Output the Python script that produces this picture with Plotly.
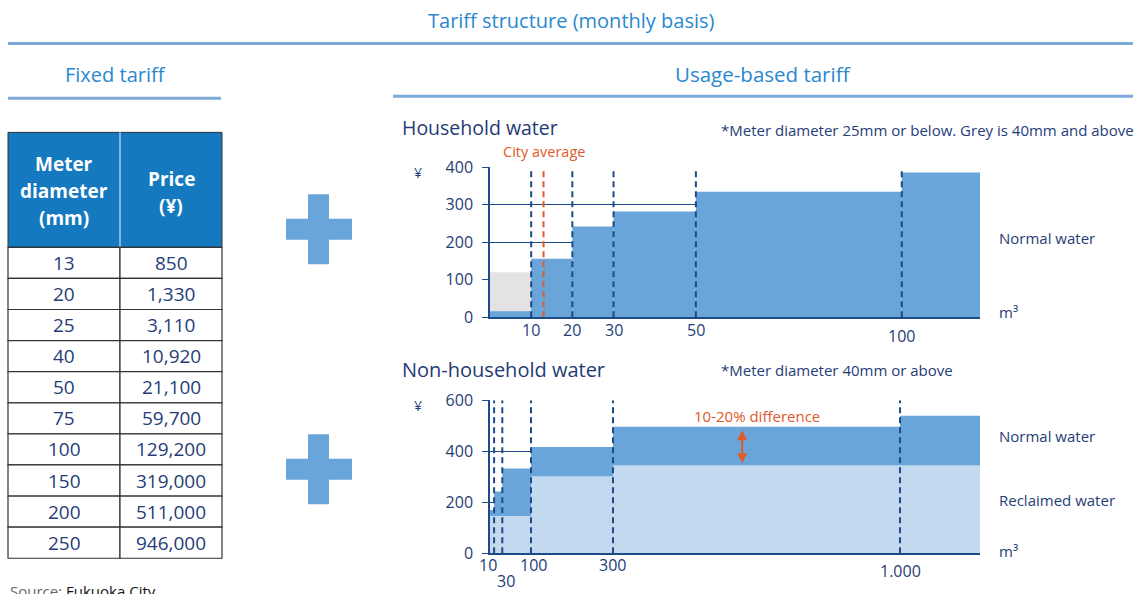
import plotly.graph_objects as go

W, H = 1137, 606
FONT = "Open Sans"

# ---- data ----
table_header = ["Meter<br>diameter<br>(mm)", "Price<br>(¥)"]
meter_diameter = [13, 20, 25, 40, 50, 75, 100, 150, 200, 250]
fixed_price = [850, 1330, 3110, 10920, 21100, 59700, 129200, 319000, 511000, 946000]

hh_breaks = [0, 10, 20, 30, 50, 100, 119]
hh_price = [16, 156, 242, 282, 335, 386]
hh_grey_breaks = [0, 10]
hh_grey_price = [120]
hh_city_avg = 13
hh_ticks = [10, 20, 30, 50, 100]
hh_tick_text = ["10", "20", "30", "50", "100"]

nh_breaks = [0, 10, 30, 100, 300, 1000, 1195]
nh_normal = [170, 242, 332, 417, 496, 539]
rc_breaks = [0, 100, 300, 1195]
nh_reclaimed = [146, 302, 345]
nh_ticks = [10, 30, 100, 300, 1000]
nh_tick_text = ["10", "30", "100", "300", "1.000"]

BLUE_BAR = "#69a5d9"
LIGHT_BAR = "#c3d9ef"
GREY_BAR = "#e3e3e3"
NAVY = "#1d4a88"
TEXT_NAVY = "#263d78"
TITLE_NAVY = "#1f3a74"
TITLE_BLUE = "#2a88d0"
RULE = "#7eaadb"
RED = "#e05a2b"
HEADER = "#1479bf"
BORDER = "#333333"

# the captured picture squeezes the page a little vertically, so layout
# positions below are given in picture pixels and converted here
Y_OFF, Y_SC = 9.6, 0.964


def px(x):
    return x / W


def py(y):
    return 1 - ((y - Y_OFF) / Y_SC) / H


def steps(breaks):
    mids = [(a + b) / 2 for a, b in zip(breaks[:-1], breaks[1:])]
    widths = [b - a for a, b in zip(breaks[:-1], breaks[1:])]
    return mids, widths


def label(x, y, text, size=15, color=TEXT_NAVY, xanchor="left"):
    fig.add_annotation(x=px(x), y=py(y), xref="paper", yref="paper", text=text, showarrow=False,
                       xanchor=xanchor, yanchor="middle", align="center",
                       font=dict(family=FONT, size=size, color=color))


fig = go.Figure()

# household chart
mids, widths = steps(hh_grey_breaks)
fig.add_trace(go.Bar(x=mids, y=hh_grey_price, width=widths, marker=dict(color=GREY_BAR, line_width=0),
                     xaxis="x", yaxis="y", hoverinfo="skip"))
mids, widths = steps(hh_breaks)
fig.add_trace(go.Bar(x=mids, y=hh_price, width=widths, marker=dict(color=BLUE_BAR, line_width=0),
                     xaxis="x", yaxis="y", hoverinfo="skip"))

# non-household chart
mids, widths = steps(nh_breaks)
fig.add_trace(go.Bar(x=mids, y=nh_normal, width=widths, marker=dict(color=BLUE_BAR, line_width=0),
                     xaxis="x2", yaxis="y2", hoverinfo="skip"))
mids, widths = steps(rc_breaks)
fig.add_trace(go.Bar(x=mids, y=nh_reclaimed, width=widths, marker=dict(color=LIGHT_BAR, line_width=0),
                     xaxis="x2", yaxis="y2", hoverinfo="skip"))

# dashed tier boundaries
for b in hh_ticks:
    fig.add_shape(type="line", xref="x", yref="y", x0=b, x1=b, y0=0, y1=400,
                  line=dict(color=NAVY, width=2, dash="6px,4px"))
fig.add_shape(type="line", xref="x", yref="y", x0=hh_city_avg, x1=hh_city_avg, y0=0, y1=400,
              line=dict(color=RED, width=2, dash="6px,4px"))
for b in nh_ticks:
    fig.add_shape(type="line", xref="x2", yref="y2", x0=b, x1=b, y0=0, y1=600,
                  line=dict(color=NAVY, width=2, dash="6px,4px"))

# x tick labels (staggered)
hh_shift = [-13, -13, -13, -13, -19]
for v, t, s in zip(hh_ticks, hh_tick_text, hh_shift):
    fig.add_annotation(x=v, y=0, xref="x", yref="y", text=t, showarrow=False, yshift=s,
                       font=dict(family=FONT, size=16, color=TEXT_NAVY))
nh_shift = [(-6, -12), (4, -28), (2, -12), (-1, -12), (0, -18)]
for v, t, (sx, sy) in zip(nh_ticks, nh_tick_text, nh_shift):
    fig.add_annotation(x=v, y=0, xref="x2", yref="y2", text=t, showarrow=False, xshift=sx, yshift=sy,
                       font=dict(family=FONT, size=16, color=TEXT_NAVY))

# difference arrow between normal and reclaimed water
fig.add_annotation(x=615, y=nh_reclaimed[-1], ax=615, ay=nh_normal[4], xref="x2", yref="y2",
                   axref="x2", ayref="y2", text="", showarrow=True, arrowhead=2, arrowside="end+start",
                   arrowsize=1, arrowwidth=2, arrowcolor=RED, standoff=2, startstandoff=2)

# fixed tariff table
col_edges = [8, 120, 222]
hdr_top, hdr_bot, row_h = 131, 246, 31.1
fig.add_shape(type="rect", xref="paper", yref="paper", x0=px(col_edges[0]), x1=px(col_edges[-1]),
              y0=py(hdr_bot), y1=py(hdr_top), fillcolor=HEADER, line=dict(color=BORDER, width=1))
fig.add_shape(type="line", xref="paper", yref="paper", x0=px(col_edges[1]), x1=px(col_edges[1]),
              y0=py(hdr_bot), y1=py(hdr_top), line=dict(color="#a9cbea", width=1.5))
for (a, b), t, cy in zip(zip(col_edges[:-1], col_edges[1:]), table_header, [190, 191]):
    lines = t.split("<br>")
    for k, ln in enumerate(lines):
        label((a + b) / 2, cy + (k - (len(lines) - 1) / 2) * 27, f"<b>{ln}</b>", 19, "white", "center")
for i, row in enumerate(zip([str(d) for d in meter_diameter], [f"{p:,}" for p in fixed_price])):
    top = hdr_bot + i * row_h
    for (a, b), t in zip(zip(col_edges[:-1], col_edges[1:]), row):
        fig.add_shape(type="rect", xref="paper", yref="paper", x0=px(a), x1=px(b),
                      y0=py(top + row_h), y1=py(top), fillcolor="white", line=dict(color=BORDER, width=1.2))
        label((a + b) / 2, top + row_h / 2, t, 19, TEXT_NAVY, "center")

label(571, 19, "Tariff structure (monthly basis)", 20, TITLE_BLUE, "center")
label(115, 73, "Fixed tariff", 20, TITLE_BLUE, "center")
label(763, 73, "Usage-based tariff", 20.5, TITLE_BLUE, "center")
label(400, 126.5, "Household water", 19.5, TITLE_NAVY)
label(719, 129, "*Meter diameter 25mm or below. Grey is 40mm and above", 15)
label(544, 150.5, "City average", 14.5, RED, "center")
label(757, 415, "10-20% difference", 15, RED, "center")
label(400, 368, "Non-household water", 20, TITLE_NAVY)
label(719, 369, "*Meter diameter 40mm or above", 15)
label(412, 171, "¥", 14)
label(412, 404, "¥", 14)
label(997, 237, "Normal water", 15)
label(997, 311, "m³", 15)
label(997, 435, "Normal water", 15)
label(997, 499, "Reclaimed water", 15)
label(997, 550, "m³", 15)
label(8, 590, "Source: <span style='color:#111'>Fukuoka City</span>", 15, "#666")

# header rules
for x0, x1, y in [(8, 1133, 42), (8, 221, 97), (393, 1133, 95)]:
    fig.add_shape(type="line", xref="paper", yref="paper", x0=px(x0), x1=px(x1), y0=py(y), y1=py(y),
                  line=dict(color=RULE, width=3))

# plus signs
for cy in [228, 468]:
    fig.add_shape(type="rect", xref="paper", yref="paper", x0=px(286), x1=px(352), y0=py(cy + 10.5), y1=py(cy - 10.5),
                  fillcolor=BLUE_BAR, line_width=0)
    fig.add_shape(type="rect", xref="paper", yref="paper", x0=px(308), x1=px(329), y0=py(cy + 35), y1=py(cy - 35),
                  fillcolor=BLUE_BAR, line_width=0)

xax = dict(showline=True, linecolor=NAVY, linewidth=2, showgrid=False, zeroline=False,
           showticklabels=False, ticks="", fixedrange=True)
yax = dict(showline=True, linecolor=NAVY, linewidth=1.5, showgrid=True, gridcolor=NAVY, gridwidth=1,
           zeroline=False, ticks="outside", ticklen=6, tickcolor=NAVY, ticklabelstandoff=6,
           tickfont=dict(family=FONT, size=16, color=TEXT_NAVY), fixedrange=True)

fig.update_layout(
    width=W, height=H, margin=dict(l=0, r=0, t=0, b=0),
    paper_bgcolor="white", plot_bgcolor="rgba(0,0,0,0)",
    showlegend=False, barmode="overlay", font=dict(family=FONT),
    xaxis=dict(xax, domain=[px(490), px(980)], range=[0, hh_breaks[-1]], anchor="y"),
    yaxis=dict(yax, domain=[py(316), py(166)], range=[0, 400], tickvals=[0, 100, 200, 300, 400], anchor="x"),
    xaxis2=dict(xax, domain=[px(490), px(980)], range=[0, nh_breaks[-1]], anchor="y2"),
    yaxis2=dict(yax, domain=[py(552), py(399)], range=[0, 600], tickvals=[0, 200, 400, 600], anchor="x2"),
)

# the page body has a default 8px margin; remove it so the figure sits at the window origin
fig.write_html("out.html", config={"displayModeBar": False},
               post_script="document.body.style.margin='0';")
